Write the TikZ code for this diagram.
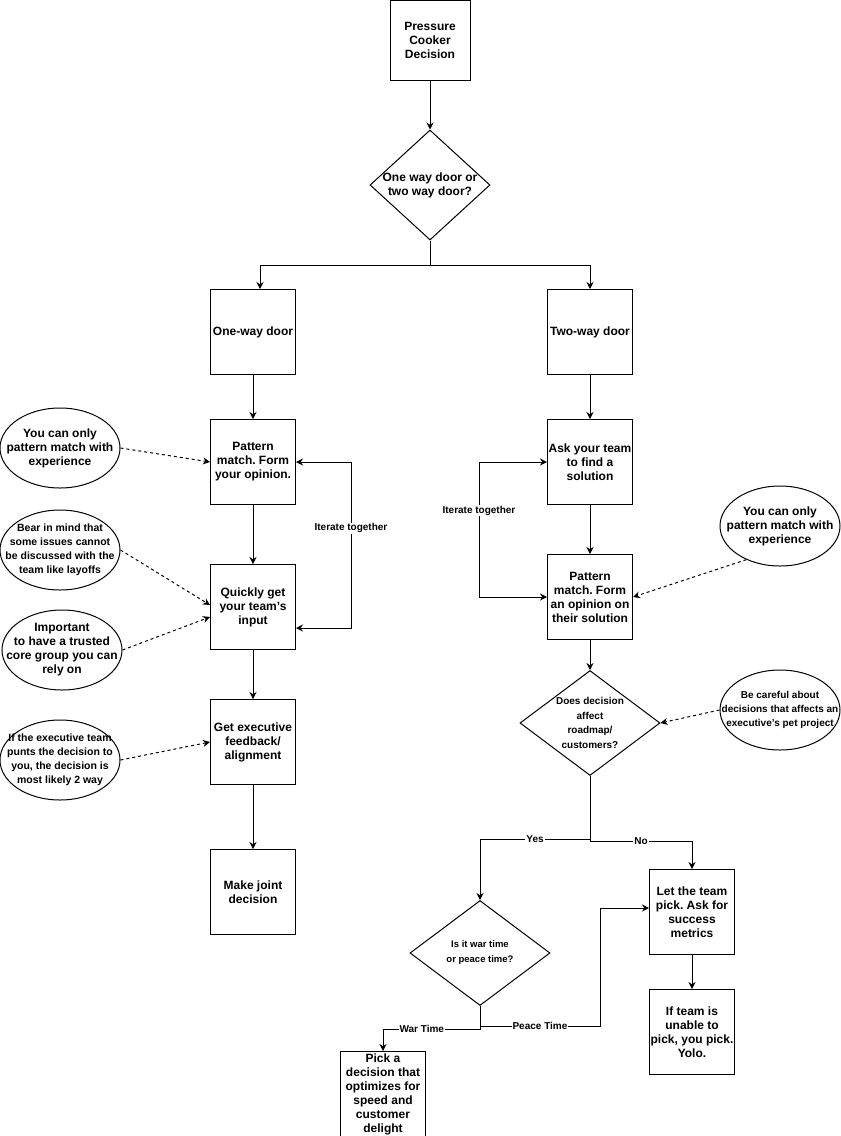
\documentclass[tikz,border=0pt]{standalone}
\usepackage{fontspec}
\setmainfont{Liberation Sans}
\usetikzlibrary{shapes.geometric,arrows.meta}

\newcommand\notefont[2]{\bfseries\fontsize{#1}{#2}\selectfont}
\frenchspacing

\begin{document}
\begin{tikzpicture}[x=1pt, y=-1pt,
    step box/.style = {rectangle, draw, line width=1pt,
                    minimum width=85pt, minimum height=85pt,
                    align=center, inner sep=0pt,
                    font=\notefont{12}{14}},
    note/.style = {ellipse, draw, line width=1pt,
                    minimum width=120pt, minimum height=80pt,
                    inner xsep=-18pt, inner ysep=0pt, align=center,
                    font=\notefont{12}{14}},
    ask/.style = {diamond, draw, line width=1pt,
                    minimum width=#1, minimum height=105pt,
                    inner xsep=-5pt, inner ysep=0pt, aspect=1.3, align=center},
    ask/.default = 140pt,
    arr/.style = {-{Stealth[length=7pt,width=7pt]}, line width=1pt},
    both arr/.style = {{Stealth[length=7pt,width=7pt]}-{Stealth[length=7pt,width=7pt]},
                    line width=1pt},
    darr/.style = {arr, dash pattern=on 3pt off 3pt},
    lbl/.style = {fill=white, inner sep=1pt, font=\notefont{10}{12}}
                            ]
    \useasboundingbox (0,0) rectangle (841,1136);

    % top of the chart
    \node (pcd) [step box, minimum width=80pt, minimum height=80pt] at (430,40)
        {Pressure\\ Cooker\\ Decision};
    \node (door) [ask=120pt, minimum height=110pt, aspect=1.1,
            font=\notefont{12}{14}] at (430,185)
        {One way door or\\ two way door?};

    % one-way door column
    \node (owd) [step box] at (253,332) {One-way door};
    \node (pmf) [step box] at (253,462) {Pattern\\ match. Form\\ your opinion.};
    \node (qgi) [step box] at (253,607) {Quickly get\\ your team's\\ input};
    \node (gef) [step box] at (253,742) {Get executive\\ feedback/\\ alignment};
    \node (mjd) [step box] at (253,892) {Make joint\\ decision};

    \node (exp1) [note] at (60,448) {You can only\\ pattern match with\\ experience};
    \node (mind) [note, font=\notefont{10.5}{14}] at (60,550)
        {Bear in mind that\\ some issues cannot\\ be discussed with the\\ team like layoffs};
    \node (core) [note] at (62,650)
        {Important\\ to have a trusted\\ core group you can\\ rely on};
    \node (punt) [note, font=\notefont{10.5}{14}] at (60,760)
        {If the executive team\\ punts the decision to\\ you, the decision is\\ most likely 2 way};

    % two-way door column
    \node (twd) [step box] at (590,332) {Two-way door};
    \node (ats) [step box] at (590,462) {Ask your team\\ to find a\\ solution};
    \node (pmo) [step box] at (590,597) {Pattern\\ match. Form\\ an opinion on\\ their solution};
    \node (exp2) [note] at (780,526) {You can only\\ pattern match with\\ experience};

    \node (road) [ask, font=\notefont{10}{14.5}] at (590,723)
        {Does decision\\ affect\\ roadmap/\\ customers?};
    \node (pet) [note, font=\notefont{10}{14}] at (780,710)
        {Be careful about\\ decisions that affects an\\ executive's pet project};

    \node (war) [ask, font=\notefont{9.5}{15}] at (480,953)
        {Is it war time\\ or peace time?};
    \node (ltp) [step box] at (692,912) {Let the team\\ pick. Ask for\\ success\\ metrics};
    \node (iup) [step box] at (692,1032) {If team is\\ unable to\\ pick, you pick.\\ Yolo.};
    \node (pad) [step box, anchor=north] at (383,1051)
        {Pick a\\ decision that\\ optimizes for\\ speed and\\ customer\\ delight};

    % connectors
    \draw[arr] (pcd) -- (door);
    \draw[arr] (door.south) -- ++(0,25) -| ([xshift=7pt]owd.north);
    \draw[arr] (door.south) -- ++(0,25) -| (twd.north);

    \draw[arr] (owd) -- (pmf);
    \draw[arr] (pmf) -- (qgi);
    \draw[arr] (qgi) -- (gef);
    \draw[arr] (gef) -- (mjd);
    \draw[both arr] (pmf.east) -- ++(55,0)
        |- node[lbl, pos=0.2] {Iterate together} ([yshift=-21pt]qgi.east);

    \draw[darr] (exp1.east) -- (pmf.west);
    \draw[darr] (mind.east) -- ([yshift=2pt]qgi.west);
    \draw[darr] (core.east) -- ([yshift=-10pt]qgi.west);
    \draw[darr] (punt.east) -- (gef.west);

    \draw[arr] (twd) -- (ats);
    \draw[arr] (ats) -- (pmo);
    \draw[both arr] (ats.west) -- ++(-68,0)
        |- node[lbl, pos=0.18] {Iterate together} (pmo.west);
    \draw[darr] (exp2.225) -- (pmo.east);

    \draw[arr] (pmo) -- (road);
    \draw[darr] (pet.west) -- (road.east);
    \draw[arr] (road.south) -- ++(0,63) -| node[lbl, pos=0.25] {Yes} (war.north);
    \draw[arr] (road.south) -- ++(0,65) -| node[lbl, pos=0.25] {No} (ltp.north);
    \draw[arr] (ltp) -- (iup);

    \draw[arr] (war.south) -- ++(0,23) -| node[lbl, pos=0.3] {War Time} (pad.north);
    \draw[arr] (war.south) -- ++(0,20) -- node[lbl] {Peace Time} ++(120,0)
        |- ([yshift=4pt]ltp.west);
\end{tikzpicture}
\end{document}
